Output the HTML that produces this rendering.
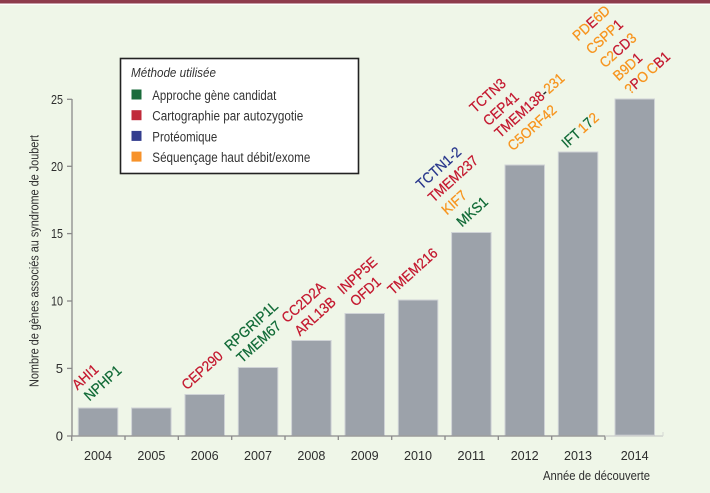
<!DOCTYPE html>
<html><head><meta charset="utf-8"><style>
html,body{margin:0;padding:0;background:#eff6e8;}
svg{display:block;}
text{font-family:"Liberation Sans",sans-serif;}
.lb text{font-size:14.5px;stroke-width:0.25px;}
.r{fill:#c4182f;stroke:#c4182f}.g{fill:#106a36;stroke:#106a36}.b{fill:#28368c;stroke:#28368c}.o{fill:#f7941d;stroke:#f7941d}.k{fill:#222;stroke:#222}
.yr{font-size:13px;fill:#2e2e2e;}
.yt{font-size:12.5px;fill:#2e2e2e;}
</style></head><body>
<svg width="710" height="493" viewBox="0 0 710 493" xmlns="http://www.w3.org/2000/svg">
<rect x="0" y="0" width="710" height="493" fill="#eff6e8"/>
<rect x="0" y="0" width="710" height="3.5" fill="#8e3c4c"/>
<rect x="0" y="3.5" width="710" height="1.5" fill="#ffffff"/>

<!-- bars -->
<g fill="#9ca2aa" stroke="#cfd3d6" stroke-width="1">
<rect x="78.3" y="408" width="39.5" height="27.7"/>
<rect x="131.6" y="408" width="39.5" height="27.7"/>
<rect x="185" y="394.5" width="39.5" height="41.2"/>
<rect x="238.3" y="367.5" width="39.5" height="68.2"/>
<rect x="291.6" y="340.5" width="39.5" height="95.2"/>
<rect x="345" y="313.5" width="39.5" height="122.2"/>
<rect x="398.3" y="300" width="39.5" height="135.7"/>
<rect x="451.6" y="232.5" width="39.5" height="203.2"/>
<rect x="505" y="165" width="39.5" height="270.7"/>
<rect x="558.3" y="152" width="39.5" height="283.7"/>
<rect x="615" y="99" width="39.5" height="336.2"/>
</g>

<!-- axes -->
<g stroke="#8a8a8a" stroke-width="1.3" fill="none">
<line x1="72" y1="99" x2="72" y2="436"/>
<line x1="72" y1="436" x2="605" y2="436"/>
<line x1="67" y1="436" x2="72" y2="436"/>
<line x1="67" y1="368.4" x2="72" y2="368.4"/>
<line x1="67" y1="301" x2="72" y2="301"/>
<line x1="67" y1="233.6" x2="72" y2="233.6"/>
<line x1="67" y1="166.3" x2="72" y2="166.3"/>
<line x1="67" y1="99.3" x2="72" y2="99.3"/>
<line x1="71.7" y1="436" x2="71.7" y2="441"/>
<line x1="125" y1="436" x2="125" y2="440"/>
<line x1="178.3" y1="436" x2="178.3" y2="440"/>
<line x1="231.7" y1="436" x2="231.7" y2="440"/>
<line x1="285" y1="436" x2="285" y2="440"/>
<line x1="338.3" y1="436" x2="338.3" y2="440"/>
<line x1="391.7" y1="436" x2="391.7" y2="440"/>
<line x1="445" y1="436" x2="445" y2="440"/>
<line x1="498.3" y1="436" x2="498.3" y2="440"/>
<line x1="551.7" y1="436" x2="551.7" y2="440"/>
<line x1="605" y1="436" x2="605" y2="440"/>
</g>
<line x1="605" y1="436" x2="663" y2="436" stroke="#c9ccc9" stroke-width="1.2"/>
<line x1="663" y1="432" x2="663" y2="436" stroke="#d5d8d5" stroke-width="1"/>

<!-- y tick labels -->
<g class="yr" text-anchor="end">
<text x="63" y="440.5">0</text>
<text x="63" y="373">5</text>
<text x="63" y="305.5" textLength="12" lengthAdjust="spacingAndGlyphs">10</text>
<text x="63" y="238" textLength="12" lengthAdjust="spacingAndGlyphs">15</text>
<text x="63" y="171" textLength="12" lengthAdjust="spacingAndGlyphs">20</text>
<text x="63" y="104" textLength="12" lengthAdjust="spacingAndGlyphs">25</text>
</g>

<!-- y title -->
<text class="yt" transform="translate(38.5,261) rotate(-90)" text-anchor="middle" textLength="252" lengthAdjust="spacingAndGlyphs">Nombre de gènes associés au syndrome de Joubert</text>

<!-- year labels -->
<g class="yr" text-anchor="middle">
<text x="98" y="460" textLength="28" lengthAdjust="spacingAndGlyphs">2004</text>
<text x="151.4" y="460" textLength="28" lengthAdjust="spacingAndGlyphs">2005</text>
<text x="204.7" y="460" textLength="28" lengthAdjust="spacingAndGlyphs">2006</text>
<text x="258" y="460" textLength="28" lengthAdjust="spacingAndGlyphs">2007</text>
<text x="311.4" y="460" textLength="28" lengthAdjust="spacingAndGlyphs">2008</text>
<text x="364.7" y="460" textLength="28" lengthAdjust="spacingAndGlyphs">2009</text>
<text x="418" y="460" textLength="28" lengthAdjust="spacingAndGlyphs">2010</text>
<text x="471.4" y="460" textLength="28" lengthAdjust="spacingAndGlyphs">2011</text>
<text x="524.7" y="460" textLength="28" lengthAdjust="spacingAndGlyphs">2012</text>
<text x="578" y="460" textLength="28" lengthAdjust="spacingAndGlyphs">2013</text>
<text x="634.7" y="460" textLength="28" lengthAdjust="spacingAndGlyphs">2014</text>
</g>
<text class="yt" x="543" y="480" textLength="107" lengthAdjust="spacingAndGlyphs">Année de découverte</text>

<!-- legend -->
<rect x="120.5" y="58.5" width="238" height="115" fill="#ffffff" stroke="#222" stroke-width="1.6"/>
<text x="131" y="77" font-size="13" font-style="italic" fill="#333" textLength="85" lengthAdjust="spacingAndGlyphs">Méthode utilisée</text>
<rect x="131.5" y="89.5" width="10" height="10" fill="#1a6b3b"/>
<rect x="131.5" y="110.2" width="10" height="10" fill="#c02a3a"/>
<rect x="131.5" y="130.9" width="10" height="10" fill="#333d8e"/>
<rect x="131.5" y="151.6" width="10" height="10" fill="#f7922a"/>
<g font-size="13.5" fill="#333">
<text x="152.3" y="100" textLength="124" lengthAdjust="spacingAndGlyphs">Approche gène candidat</text>
<text x="152.3" y="120.7" textLength="151" lengthAdjust="spacingAndGlyphs">Cartographie par autozygotie</text>
<text x="152.3" y="141.4" textLength="65" lengthAdjust="spacingAndGlyphs">Protéomique</text>
<text x="152.3" y="162.1" textLength="158" lengthAdjust="spacingAndGlyphs">Séquençage haut débit/exome</text>
</g>

<!-- gene labels -->
<g class="lb">
<text class="r" transform="translate(77.5,390.5) rotate(-42) scale(0.92,1)">AHI1</text>
<text class="g" transform="translate(89.5,401.5) rotate(-42) scale(0.92,1)">NPHP1</text>
<text class="r" transform="translate(187,390.5) rotate(-42) scale(0.92,1)">CEP290</text>
<text class="g" transform="translate(230,351.5) rotate(-42) scale(0.92,1)">RPGRIP1L</text>
<text class="g" transform="translate(242,363.5) rotate(-42) scale(0.92,1)">TMEM67</text>
<text class="r" transform="translate(287,323.5) rotate(-42) scale(0.92,1)">CC2D2A</text>
<text class="r" transform="translate(300,336.5) rotate(-42) scale(0.92,1)">ARL13B</text>
<text class="r" transform="translate(343,295) rotate(-42) scale(0.92,1)">INPP5E</text>
<text class="r" transform="translate(355.5,307) rotate(-42) scale(0.92,1)">OFD1</text>
<text class="r" transform="translate(393,295.5) rotate(-42) scale(0.92,1)">TMEM216</text>
<text class="b" transform="translate(421.5,190) rotate(-42) scale(0.92,1)">TCTN1-2</text>
<text class="r" transform="translate(433.5,203) rotate(-42) scale(0.92,1)">TMEM237</text>
<text class="o" transform="translate(447,215.5) rotate(-42) scale(0.92,1)">KIF7</text>
<text class="g" transform="translate(462,227.5) rotate(-42) scale(0.92,1)">MKS1</text>
<text class="r" transform="translate(475,113.5) rotate(-42) scale(0.92,1)">TCTN3</text>
<text class="r" transform="translate(488.5,126.5) rotate(-42) scale(0.92,1)">CEP41</text>
<text transform="translate(500,138.5) rotate(-42) scale(0.92,1)"><tspan class="r">TMEM138</tspan><tspan class="k">-</tspan><tspan class="o">231</tspan></text>
<text class="o" transform="translate(513,151.5) rotate(-42) scale(0.92,1)">C5ORF42</text>
<text transform="translate(567,148.5) rotate(-42) scale(0.92,1)"><tspan class="g">IFT</tspan><tspan class="o" dx="2">1</tspan><tspan class="g">7</tspan><tspan class="o">2</tspan></text>
<text transform="translate(578,41.5) rotate(-42) scale(0.92,1)"><tspan class="o">PD</tspan><tspan class="r">E</tspan><tspan class="o">6D</tspan></text>
<text transform="translate(591.5,55) rotate(-42) scale(0.92,1)"><tspan class="o">CSPP</tspan><tspan class="r">1</tspan></text>
<text transform="translate(605,68.5) rotate(-42) scale(0.92,1)"><tspan class="o">C2</tspan><tspan class="r">CD</tspan><tspan class="o">3</tspan></text>
<text transform="translate(618.5,81.5) rotate(-42) scale(0.92,1)"><tspan class="o">B9D</tspan><tspan class="r">1</tspan></text>
<text transform="translate(630,95) rotate(-42) scale(0.92,1)"><tspan class="o">?</tspan><tspan class="r">P</tspan><tspan class="o">O</tspan><tspan class="o" dx="3">C</tspan><tspan class="r">B1</tspan></text>
</g>
</svg>
</body></html>
